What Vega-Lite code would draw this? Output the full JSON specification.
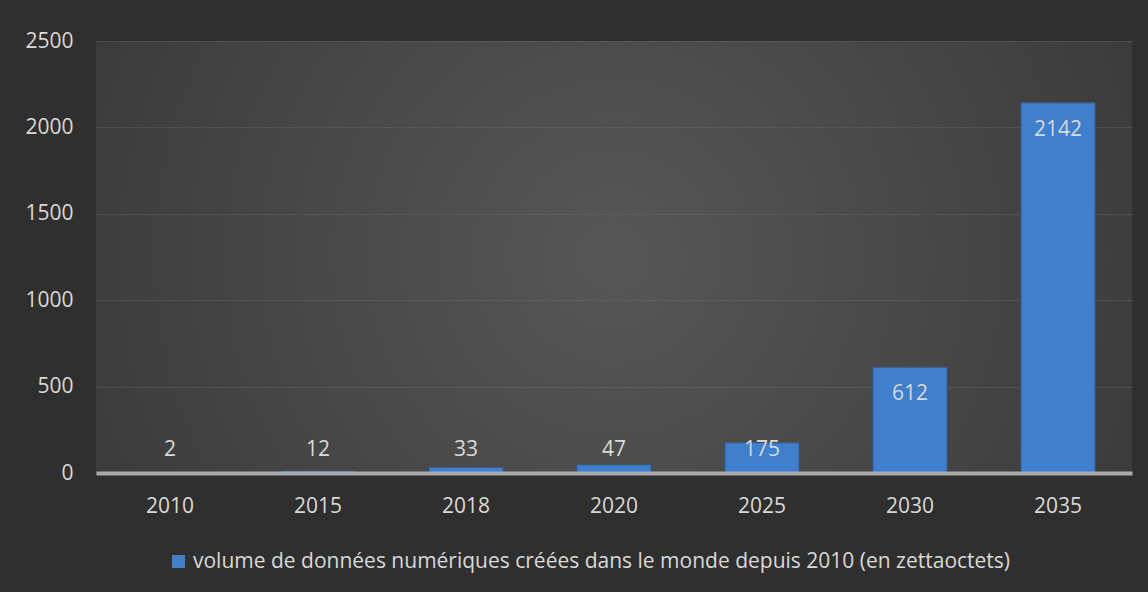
{
  "$schema": "https://vega.github.io/schema/vega-lite/v6.json",
  "width": 1036,
  "height": 432,
  "autosize": {"type": "none"},
  "padding": {"left": 96, "top": 41, "right": 16, "bottom": 119},
  "background": "#2f2f2f",
  "config": {
    "font": "Open Sans",
    "view": {
      "stroke": null,
      "fill": {
        "gradient": "radial",
        "x1": 0.5, "y1": 0.5, "r1": 0,
        "x2": 0.5, "y2": 0.5, "r2": 0.72,
        "stops": [
          {"offset": 0, "color": "#575757"},
          {"offset": 1, "color": "#323232"}
        ]
      }
    }
  },
  "data": {
    "values": [
      {"annee": "2010", "volume": 2, "serie": "volume de données numériques créées dans le monde depuis 2010 (en zettaoctets)"},
      {"annee": "2015", "volume": 12, "serie": "volume de données numériques créées dans le monde depuis 2010 (en zettaoctets)"},
      {"annee": "2018", "volume": 33, "serie": "volume de données numériques créées dans le monde depuis 2010 (en zettaoctets)"},
      {"annee": "2020", "volume": 47, "serie": "volume de données numériques créées dans le monde depuis 2010 (en zettaoctets)"},
      {"annee": "2025", "volume": 175, "serie": "volume de données numériques créées dans le monde depuis 2010 (en zettaoctets)"},
      {"annee": "2030", "volume": 612, "serie": "volume de données numériques créées dans le monde depuis 2010 (en zettaoctets)"},
      {"annee": "2035", "volume": 2142, "serie": "volume de données numériques créées dans le monde depuis 2010 (en zettaoctets)"}
    ]
  },
  "encoding": {
    "x": {
      "field": "annee",
      "type": "nominal",
      "sort": null,
      "scale": {"paddingInner": 0.5, "paddingOuter": 0.25},
      "axis": {
        "title": null,
        "labelAngle": 0,
        "labelFontSize": 21,
        "labelColor": "#d9d9d9",
        "labelPadding": 22,
        "ticks": false,
        "tickSize": 0,
        "domainColor": "#a9a9a9",
        "domainWidth": 4,
        "zindex": 1
      }
    }
  },
  "layer": [
    {
      "mark": {"type": "bar", "stroke": "#2c5f9f", "strokeWidth": 1},
      "encoding": {
        "y": {
          "field": "volume",
          "type": "quantitative",
          "scale": {"domain": [0, 2500], "nice": false},
          "axis": {
            "title": null,
            "values": [0, 500, 1000, 1500, 2000, 2500],
            "format": "d",
            "labelFontSize": 21,
            "labelColor": "#d9d9d9",
            "labelPadding": 23,
            "ticks": false,
            "tickSize": 0,
            "domain": false,
            "grid": true,
            "gridColor": "#6e6e6e",
            "gridDash": [1, 2],
            "gridWidth": 1
          }
        },
        "color": {
          "field": "serie",
          "type": "nominal",
          "scale": {"range": ["#3f7fcc"]},
          "legend": {
            "title": null,
            "orient": "none",
            "legendX": 72,
            "legendY": 510,
            "direction": "horizontal",
            "symbolType": "square",
            "symbolSize": 170,
            "symbolStrokeWidth": 0,
            "labelFontSize": 21,
            "labelColor": "#d9d9d9",
            "labelLimit": 1000
          }
        }
      }
    },
    {
      "transform": [{"filter": "datum.volume <= 200"}],
      "mark": {"type": "text", "fontSize": 21, "color": "#d9d9d9", "baseline": "middle", "dy": -23},
      "encoding": {
        "y": {"datum": 0, "type": "quantitative"},
        "text": {"field": "volume", "type": "quantitative"}
      }
    },
    {
      "transform": [{"filter": "datum.volume > 200"}],
      "mark": {"type": "text", "fontSize": 21, "color": "#d9d9d9", "baseline": "middle", "dy": 27},
      "encoding": {
        "y": {"field": "volume", "type": "quantitative"},
        "text": {"field": "volume", "type": "quantitative"}
      }
    }
  ]
}
